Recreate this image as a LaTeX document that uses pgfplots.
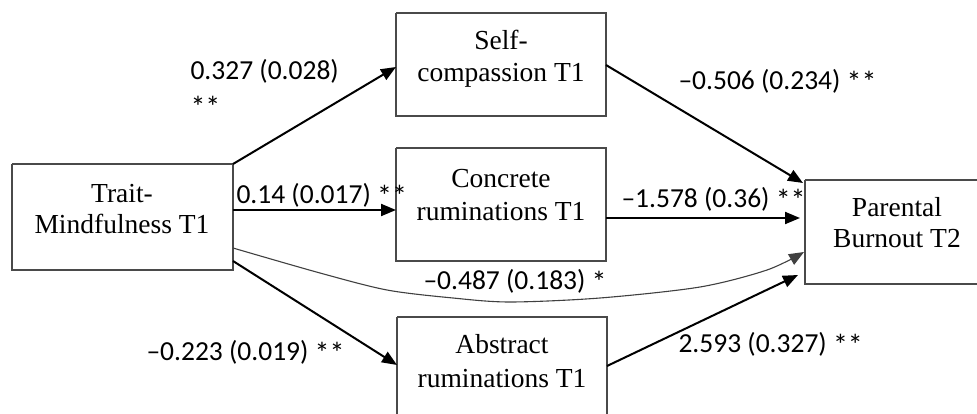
\documentclass[border=0pt]{standalone}
\usepackage{fontspec}
\setmainfont{Liberation Serif}
\newfontfamily\lab{Carlito}
\usepackage{pgfplots}
\pgfplotsset{compat=1.18}
\usetikzlibrary{arrows.meta}
\definecolor{boxc}{HTML}{4A4A4A}
\definecolor{txt}{HTML}{1E1E1E}
\newcommand{\st}[1]{\raisebox{-3bp}{\fontsize{30bp}{32bp}\selectfont #1}}
\begin{document}
\begin{tikzpicture}
\begin{axis}[
  width=977bp, height=414bp, scale only axis,
  xmin=0, xmax=977, ymin=0, ymax=414, y dir=reverse,
  hide axis, clip=true,
  every node/.style={inner sep=0pt, text=txt},
]
% boxes
\addplot[boxc, line width=1.4bp, line join=miter] coordinates {(12,164) (233,164) (233,270) (12,270) (12,164)};
\addplot[boxc, line width=1.4bp, line join=miter] coordinates {(396,13) (606,13) (606,116) (396,116) (396,13)};
\addplot[boxc, line width=1.4bp, line join=miter] coordinates {(396,148) (606,148) (606,261) (396,261) (396,148)};
\addplot[boxc, line width=1.4bp, line join=miter] coordinates {(397,317) (607,317) (607,430) (397,430) (397,317)};
\addplot[boxc, line width=1.4bp, line join=miter] coordinates {(805,180) (990,180) (990,284) (805,284) (805,180)};
% arrows
\addplot[black, line width=2bp, -{Triangle[length=15bp,width=12bp]}] coordinates {(233,164) (396,67)};
\addplot[black, line width=2bp, -{Triangle[length=15bp,width=12bp]}] coordinates {(233,210) (396,210)};
\addplot[black, line width=2bp, -{Triangle[length=15bp,width=12bp]}] coordinates {(233,261) (397,365)};
\addplot[black, line width=2bp, -{Triangle[length=15bp,width=12bp]}] coordinates {(606,65) (803,183)};
\addplot[black, line width=2bp, -{Triangle[length=15bp,width=12bp]}] coordinates {(606,218) (800,218)};
\addplot[black, line width=2bp, -{Triangle[length=15bp,width=12bp]}] coordinates {(607,366) (798,275)};
\addplot[black!75, line width=1.1bp, smooth, -{Triangle[length=15bp,width=12bp]}] coordinates {(233,248) (320,273) (387,290) (453,298) (510,302) (600,298) (700,287) (767,270) (804,252)};
% box texts
\node[font=\fontsize{27.5bp}{32bp}\selectfont, anchor=base] at (axis cs:122,202) {Trait-};
\node[font=\fontsize{27.5bp}{32bp}\selectfont, anchor=base] at (axis cs:122,233) {Mindfulness T1};
\node[font=\fontsize{27.5bp}{32bp}\selectfont, anchor=base] at (axis cs:501,50) {Self-};
\node[font=\fontsize{27.5bp}{32bp}\selectfont, anchor=base] at (axis cs:501,82) {compassion T1};
\node[font=\fontsize{27.5bp}{32bp}\selectfont, anchor=base] at (axis cs:501,187) {Concrete};
\node[font=\fontsize{27.5bp}{32bp}\selectfont, anchor=base] at (axis cs:501,220) {ruminations T1};
\node[font=\fontsize{27.5bp}{32bp}\selectfont, anchor=base] at (axis cs:502,353) {Abstract};
\node[font=\fontsize{27.5bp}{32bp}\selectfont, anchor=base] at (axis cs:502,387) {ruminations T1};
\node[font=\fontsize{27.5bp}{32bp}\selectfont, anchor=base] at (axis cs:897,216) {Parental};
\node[font=\fontsize{27.5bp}{32bp}\selectfont, anchor=base] at (axis cs:897,247) {Burnout T2};
% path labels
\node[font=\lab\fontsize{27.5bp}{32bp}\selectfont, anchor=base west] at (axis cs:187,80) {0.327 (0.028)};
\node[font=\lab\fontsize{27.5bp}{32bp}\selectfont, anchor=base west] at (axis cs:187,114) {\st{**}};
\node[font=\lab\fontsize{27.5bp}{32bp}\selectfont, anchor=base west] at (axis cs:233,203) {0.14 (0.017) \st{**}};
\node[font=\lab\fontsize{27.5bp}{32bp}\selectfont, anchor=base west] at (axis cs:675,90) {–0.506 (0.234) \st{**}};
\node[font=\lab\fontsize{27.5bp}{32bp}\selectfont, anchor=base west] at (axis cs:618,207) {–1.578 (0.36) \st{**}};
\node[font=\lab\fontsize{27.5bp}{32bp}\selectfont, anchor=base west] at (axis cs:420,289) {–0.487 (0.183) \st{*}};
\node[font=\lab\fontsize{27.5bp}{32bp}\selectfont, anchor=base west] at (axis cs:143,360) {–0.223 (0.019) \st{**}};
\node[font=\lab\fontsize{27.5bp}{32bp}\selectfont, anchor=base west] at (axis cs:675,352) {2.593 (0.327) \st{**}};
\end{axis}
\pgfresetboundingbox
\path[use as bounding box] (current axis.south west) rectangle (current axis.north east);
\end{tikzpicture}
\end{document}
